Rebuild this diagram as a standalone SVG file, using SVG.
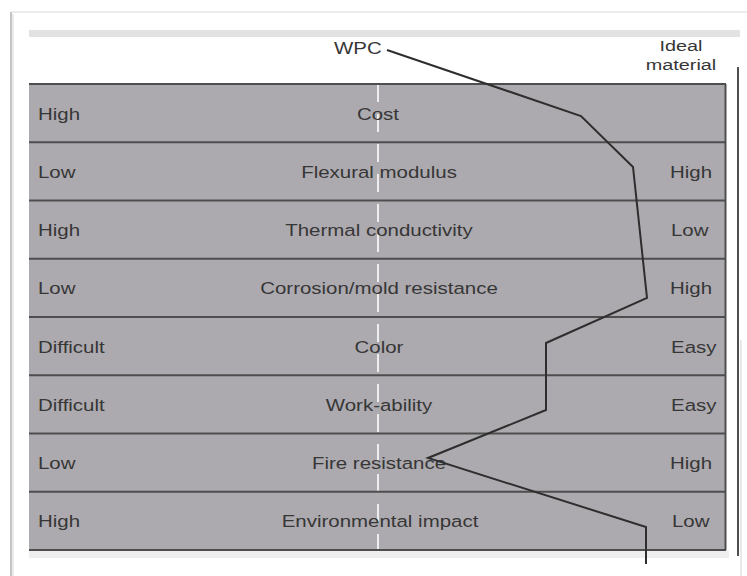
<svg xmlns="http://www.w3.org/2000/svg" width="747" height="576" viewBox="0 0 747 576">
  <style>
    .lbl { font-family: "Liberation Sans", Arial, sans-serif; font-size: 16.5px; fill: #363636; }
    .hdr { font-size: 15.5px; }
    .mid { text-anchor: middle; }
    .row { fill: #adaaaf; }
    .rule { stroke: #4e4e4e; stroke-width: 2; fill: none; }
    .centre { stroke: #f4f4f4; stroke-width: 2; stroke-dasharray: 18 12; fill: none; opacity: 0.9; }
    .wpc { stroke: #2e2e2e; stroke-width: 2; fill: none; stroke-linejoin: miter; }
  </style>
  <rect x="0" y="0" width="747" height="576" fill="#ffffff"/>
  <g id="page">
    <line x1="11" y1="12" x2="747" y2="12" stroke="#e6e6e6" stroke-width="1.5"/>
    <line x1="11" y1="12" x2="11" y2="576" stroke="#c4c4c4" stroke-width="2"/>
    <line x1="13" y1="14" x2="13" y2="576" stroke="#ececec" stroke-width="2"/>
    <line x1="741" y1="340" x2="741" y2="576" stroke="#e2e2e2" stroke-width="1.5"/>
    <rect x="29" y="30" width="711" height="7" fill="#e2e2e2"/>
    <rect x="29" y="550" width="700" height="8" fill="#eeeeee"/>
  </g>
  <g id="grid">
    <rect class="row" x="29" y="84" width="697" height="466"/>
    <line class="centre" x1="378" y1="84" x2="378" y2="560"/>
    <line class="rule" x1="29" y1="84" x2="726" y2="84"/>
    <line class="rule" x1="29" y1="142.25" x2="726" y2="142.25"/>
    <line class="rule" x1="29" y1="200.5" x2="726" y2="200.5"/>
    <line class="rule" x1="29" y1="258.75" x2="726" y2="258.75"/>
    <line class="rule" x1="29" y1="317" x2="726" y2="317"/>
    <line class="rule" x1="29" y1="375.25" x2="726" y2="375.25"/>
    <line class="rule" x1="29" y1="433.5" x2="726" y2="433.5"/>
    <line class="rule" x1="29" y1="491.75" x2="726" y2="491.75"/>
    <line class="rule" x1="29" y1="550" x2="726" y2="550"/>
    <line class="rule" x1="725.5" y1="84" x2="725.5" y2="550"/>
    <line class="rule" x1="738" y1="67" x2="738" y2="556"/>
  </g>
  <g id="header">
    <text class="lbl" transform="translate(334,54) scale(1.24,1)">WPC</text>
    <text class="lbl hdr mid" transform="translate(681,51) scale(1.28,1)">Ideal</text>
    <text class="lbl hdr mid" transform="translate(681,69.5) scale(1.28,1)">material</text>
  </g>
  <g id="row-cost">
    <text class="lbl" transform="translate(38,119.5) scale(1.24,1)">High</text>
    <text class="lbl mid" transform="translate(378,119.5) scale(1.24,1)">Cost</text>
  </g>
  <g id="row-flexural">
    <text class="lbl" transform="translate(38,177.7) scale(1.24,1)">Low</text>
    <text class="lbl mid" transform="translate(379,177.7) scale(1.24,1)">Flexural modulus</text>
    <text class="lbl" transform="translate(670,177.7) scale(1.24,1)">High</text>
  </g>
  <g id="row-thermal">
    <text class="lbl" transform="translate(38,236) scale(1.24,1)">High</text>
    <text class="lbl mid" transform="translate(379,236) scale(1.24,1)">Thermal conductivity</text>
    <text class="lbl" transform="translate(671,236) scale(1.24,1)">Low</text>
  </g>
  <g id="row-corrosion">
    <text class="lbl" transform="translate(38,294.2) scale(1.24,1)">Low</text>
    <text class="lbl mid" transform="translate(379,294.2) scale(1.24,1)">Corrosion/mold resistance</text>
    <text class="lbl" transform="translate(670,294.2) scale(1.24,1)">High</text>
  </g>
  <g id="row-color">
    <text class="lbl" transform="translate(38,352.5) scale(1.24,1)">Difficult</text>
    <text class="lbl mid" transform="translate(379,352.5) scale(1.24,1)">Color</text>
    <text class="lbl" transform="translate(671,352.5) scale(1.24,1)">Easy</text>
  </g>
  <g id="row-workability">
    <text class="lbl" transform="translate(38,410.7) scale(1.24,1)">Difficult</text>
    <text class="lbl mid" transform="translate(379,410.7) scale(1.24,1)">Work-ability</text>
    <text class="lbl" transform="translate(671,410.7) scale(1.24,1)">Easy</text>
  </g>
  <g id="row-fire">
    <text class="lbl" transform="translate(38,469) scale(1.24,1)">Low</text>
    <text class="lbl mid" transform="translate(379,469) scale(1.24,1)">Fire resistance</text>
    <text class="lbl" transform="translate(670,469) scale(1.24,1)">High</text>
  </g>
  <g id="row-environment">
    <text class="lbl" transform="translate(38,527.2) scale(1.24,1)">High</text>
    <text class="lbl mid" transform="translate(380,527.2) scale(1.24,1)">Environmental impact</text>
    <text class="lbl" transform="translate(672,527.2) scale(1.24,1)">Low</text>
  </g>
  <g id="connectors">
    <polyline class="wpc" points="387,50 581,116 633,167 647,298 546,343 546,410 428,458 646,527 646,564"/>
  </g>
</svg>
